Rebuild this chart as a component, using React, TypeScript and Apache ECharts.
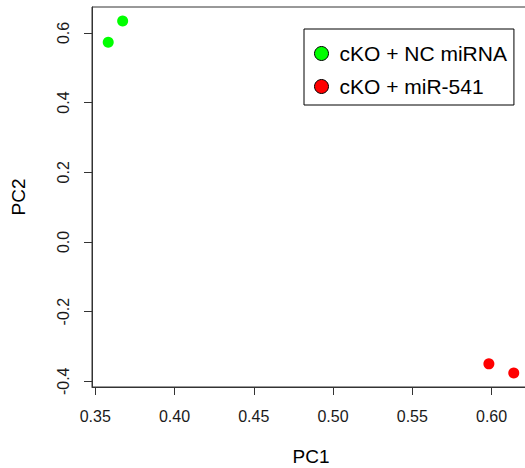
import React, { useEffect, useRef } from "react";
import * as echarts from "echarts";

const seriesNames = ["cKO + NC miRNA", "cKO + miR-541"];
const seriesColors = ["#00FF00", "#FF0000"];
const pc1Green = [0.3582, 0.3673];
const pc2Green = [0.573, 0.634];
const pc1Red = [0.5983, 0.614];
const pc2Red = [-0.35, -0.376];
const xTicks = [0.35, 0.4, 0.45, 0.5, 0.55, 0.6];
const yTicks = [-0.4, -0.2, 0.0, 0.2, 0.4, 0.6];

// R-style axis limits: data range extended by 4% on each side
function rRange(vals: number[]) {
  const lo = Math.min(...vals);
  const hi = Math.max(...vals);
  const ext = (hi - lo) * 0.04;
  return [lo - ext, hi + ext];
}

export default function App() {
  const ref = useRef<HTMLDivElement>(null);
  useEffect(() => {
    if (!ref.current) return;
    const chart = echarts.init(ref.current, null, { renderer: "svg" });
    const [xmin, xmax] = rRange([...pc1Green, ...pc1Red]);
    const [ymin, ymax] = rRange([...pc2Green, ...pc2Red]);
    const font = "Liberation Sans, Arial, Helvetica, sans-serif";
    const axisColor = "#333";
    chart.setOption({
      animation: false,
      textStyle: { fontFamily: font },
      grid: {
        left: 92,
        top: 7,
        width: 438,
        height: 380,
        show: true,
        borderColor: axisColor,
        borderWidth: 1,
        backgroundColor: "transparent",
        containLabel: false,
        outerBoundsMode: "none",
      },
      xAxis: {
        type: "value",
        min: xmin,
        max: xmax,
        name: "PC1",
        nameLocation: "middle",
        nameGap: 60,
        nameTextStyle: { fontSize: 19, color: "#000", fontFamily: font },
        axisLine: { show: true, onZero: false, lineStyle: { color: axisColor, width: 1 } },
        axisTick: {
          show: true,
          inside: false,
          length: 8,
          customValues: xTicks,
          lineStyle: { color: axisColor, width: 1 },
        },
        axisLabel: {
          show: true,
          customValues: xTicks,
          margin: 21,
          fontSize: 16,
          color: "#1a1a1a",
          fontFamily: font,
          formatter: (v: number) => v.toFixed(2),
        },
        splitLine: { show: false },
      },
      yAxis: {
        type: "value",
        min: ymin,
        max: ymax,
        name: "PC2",
        nameLocation: "middle",
        nameGap: 64,
        nameTextStyle: { fontSize: 19, color: "#000", fontFamily: font },
        axisLine: { show: true, onZero: false, lineStyle: { color: axisColor, width: 1 } },
        axisTick: {
          show: true,
          inside: false,
          length: 8,
          customValues: yTicks,
          lineStyle: { color: axisColor, width: 1 },
        },
        axisLabel: {
          show: true,
          customValues: yTicks,
          rotate: 90,
          margin: 21,
          fontSize: 16,
          color: "#1a1a1a",
          fontFamily: font,
          formatter: (v: number) => v.toFixed(1),
        },
        splitLine: { show: false },
      },
      legend: {
        orient: "vertical",
        left: 304,
        top: 29,
        icon: "circle",
        itemWidth: 26,
        itemHeight: 14,
        itemGap: 12,
        padding: [14, 7, 8, 10],
        borderColor: "#000",
        borderWidth: 1,
        borderRadius: 0,
        itemStyle: { borderColor: "#000", borderWidth: 1 },
        textStyle: { fontSize: 21, color: "#000", fontFamily: font, lineHeight: 20 },
        data: seriesNames,
      },
      series: [
        {
          name: seriesNames[0],
          type: "scatter",
          symbol: "circle",
          symbolSize: 11,
          itemStyle: { color: seriesColors[0], opacity: 1 },
          data: pc1Green.map((x, i) => [x, pc2Green[i]]),
        },
        {
          name: seriesNames[1],
          type: "scatter",
          symbol: "circle",
          symbolSize: 11,
          itemStyle: { color: seriesColors[1], opacity: 1 },
          data: pc1Red.map((x, i) => [x, pc2Red[i]]),
        },
      ],
    });
    return () => chart.dispose();
  }, []);
  return (
    <div
      ref={ref}
      style={{ position: "fixed", left: 0, top: 0, width: 525, height: 468, background: "#fff" }}
    />
  );
}
